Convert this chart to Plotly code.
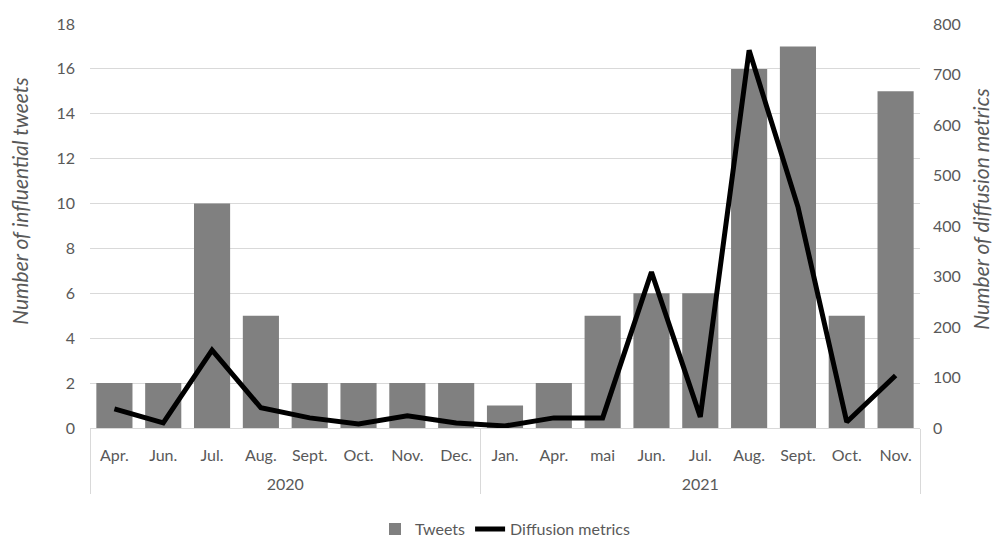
import plotly.graph_objects as go

years = ["2020"] * 8 + ["2021"] * 9
months = ["Apr.", "Jun.", "Jul.", "Aug.", "Sept.", "Oct.", "Nov.", "Dec.",
          "Jan.", "Apr.", "mai", "Jun.", "Jul.", "Aug.", "Sept.", "Oct.", "Nov."]
tweets = [2, 2, 10, 5, 2, 2, 2, 2, 1, 2, 5, 6, 6, 16, 17, 5, 15]
diffusion = [38, 10, 154, 40, 20, 8, 24, 10, 4, 20, 20, 309, 22, 748, 438, 12, 104]
left_title = "Number of influential tweets"
right_title = "Number of diffusion metrics"

# make inner labels unique per year so plotly keeps the given order
inner = [m if y == "2020" else m + "\u200b" for y, m in zip(years, months)]
outer = ["\u00a0<br>" + y for y in years]

font_family = "Lato, 'Open Sans', sans-serif"
txt = "#595959"

fig = go.Figure()
fig.add_trace(go.Bar(
    x=[outer, inner], y=tweets, name="Tweets",
    marker=dict(color="#808080", line=dict(width=0)),
    yaxis="y",
))
fig.add_trace(go.Scatter(
    x=[outer, inner], y=diffusion, name="Diffusion metrics",
    mode="lines", line=dict(color="#000000", width=5),
    yaxis="y2",
))

fig.update_layout(
    width=995, height=540,
    margin=dict(l=90, r=75, t=24, b=112, autoexpand=False),
    paper_bgcolor="white", plot_bgcolor="white",
    font=dict(family=font_family, size=16, color=txt),
    bargap=0.26,
    showlegend=True,
    legend=dict(orientation="h", x=0.5, xanchor="center",
                yref="container", y=0.02, yanchor="middle",
                font=dict(size=16, color=txt), traceorder="normal"),
    xaxis=dict(
        type="multicategory", automargin=False,
        showline=True, linecolor="#d9d9d9", linewidth=1,
        showdividers=True, dividercolor="#d9d9d9", dividerwidth=1,
        ticks="", ticklabelstandoff=13,
        tickfont=dict(size=16, color=txt),
        showgrid=False,
    ),
    yaxis=dict(
        range=[0, 18], dtick=2, showgrid=True, gridcolor="#d9d9d9", gridwidth=1,
        zeroline=False, ticks="", ticklabelstandoff=14, automargin=False,
        tickfont=dict(size=16, color=txt),
    ),
    yaxis2=dict(
        range=[0, 800], dtick=100, overlaying="y", side="right", showgrid=False,
        zeroline=False, ticks="", ticklabelstandoff=12, automargin=False,
        tickfont=dict(size=16, color=txt),
    ),
    annotations=[
        dict(text="<i>" + left_title + "</i>", textangle=-90, showarrow=False,
             xref="paper", yref="paper", x=-0.0843, y=0.56,
             xanchor="center", yanchor="middle",
             font=dict(size=21, color=txt)),
        dict(text="<i>" + right_title + "</i>", textangle=-90, showarrow=False,
             xref="paper", yref="paper", x=1.0735, y=0.54,
             xanchor="center", yanchor="middle",
             font=dict(size=21, color=txt)),
    ],
)

fig.write_html("out.html")
